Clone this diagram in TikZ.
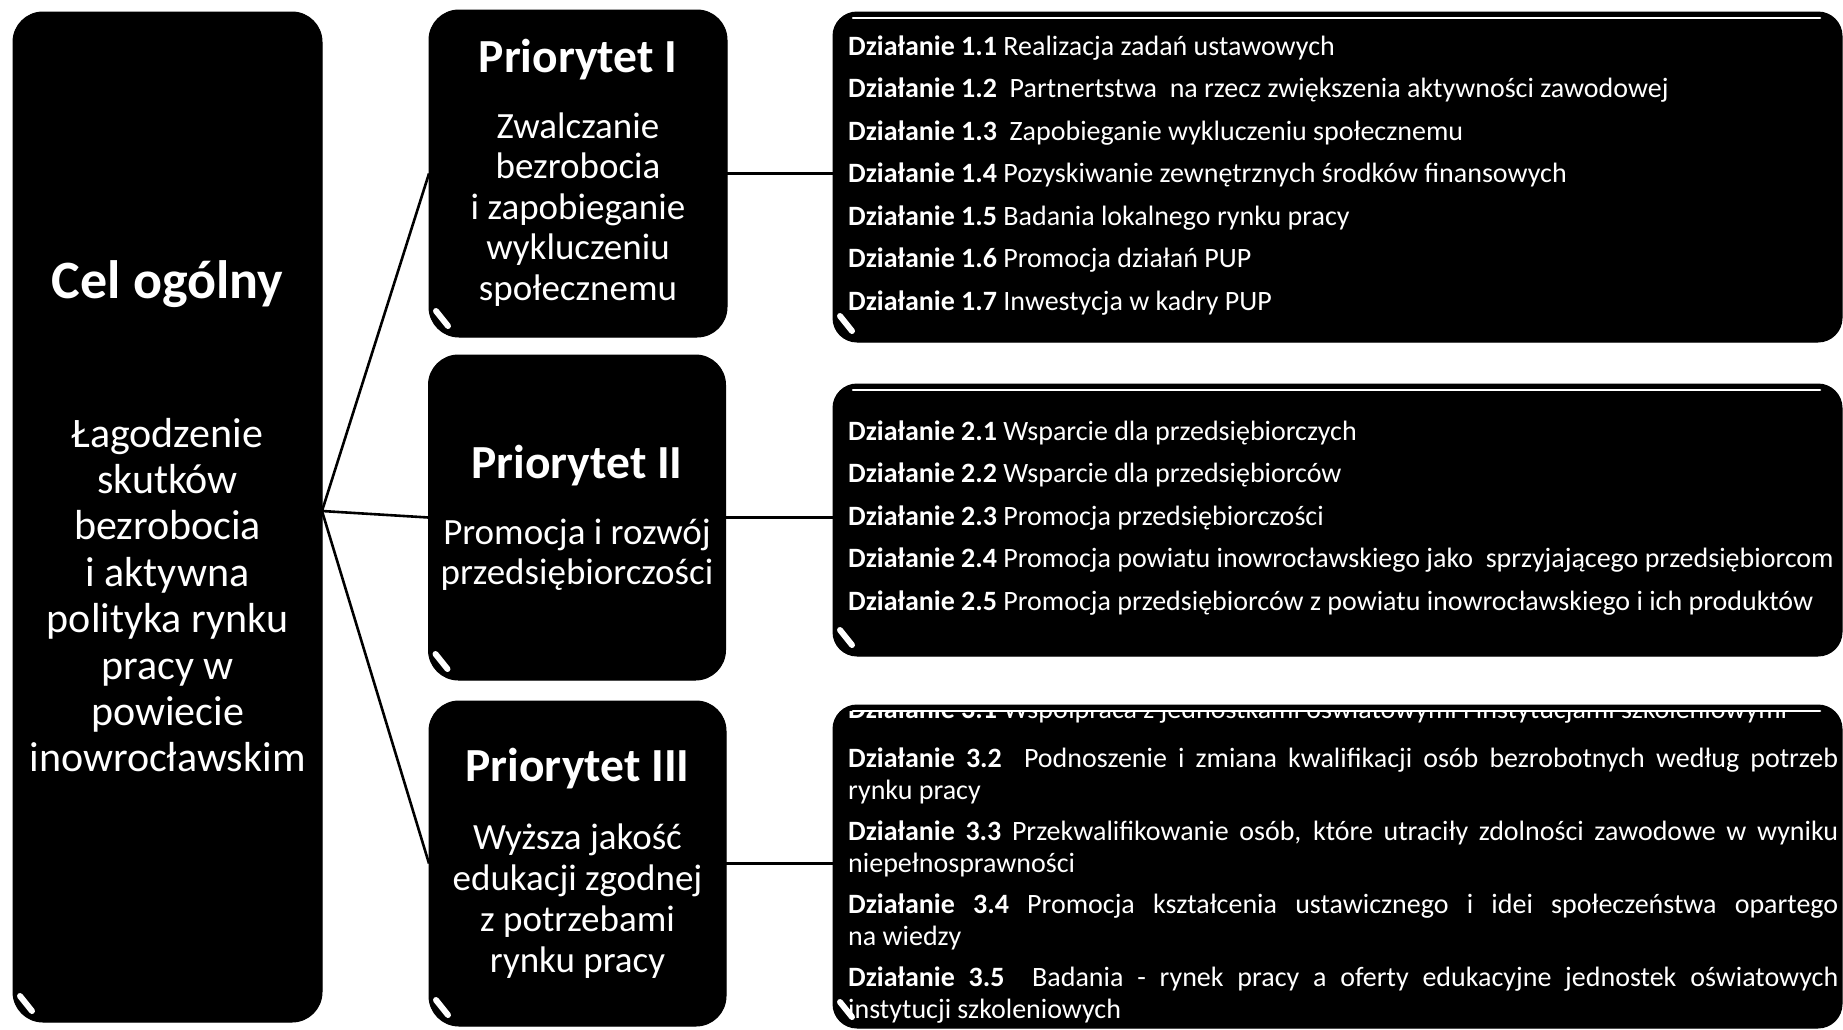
\documentclass[tikz,border=0pt]{standalone}
\usepackage{fontspec}
\setmainfont{Carlito}
\begin{document}
\begin{tikzpicture}[x=1pt,y=-1pt]
\tikzset{
  blk/.style={draw=black, fill=black, line width=1pt, inner sep=0pt, outer sep=0pt},
  bigbox/.style={blk, rounded corners=30pt},
  actbox/.style={blk, rounded corners=24pt},
  conn/.style={draw=black, line width=2.6pt},
  gloss/.style={draw=white, line width=6pt, line cap=round},
  topgloss/.style={draw=white, line width=2.5pt, line cap=round},
  wtxt/.style={text=white, inner sep=0pt, anchor=base},
  acttxt/.style={text=white, inner sep=0pt, anchor=base west, font=\fontsize{28pt}{31.5pt}\selectfont},
  celtitle/.style={wtxt, font=\fontsize{54pt}{60pt}\selectfont\bfseries},
  celbody/.style={wtxt, font=\fontsize{42pt}{46pt}\selectfont},
  ptitle/.style={wtxt, font=\fontsize{47.5pt}{55pt}\selectfont\bfseries},
  pbody/.style={wtxt, font=\fontsize{37pt}{41pt}\selectfont},
}
\fill[white] (0,0) rectangle (1843,1029);
\useasboundingbox (0,0) rectangle (1843,1029);

% boxes
\node[bigbox, minimum width=309pt, minimum height=1010pt] (cel) at (167.5,517) {};
\node[bigbox, minimum width=298pt, minimum height=327pt] (p1) at (578,173.5) {};
\node[bigbox, minimum width=297pt, minimum height=325pt] (p2) at (577,517.5) {};
\node[bigbox, minimum width=297pt, minimum height=325pt] (p3) at (577.5,863.5) {};
\node[actbox, minimum width=1009pt, minimum height=330pt] (a1) at (1337.5,177) {};
\node[actbox, minimum width=1009pt, minimum height=272pt] (a2) at (1337.5,520) {};
\node[actbox, minimum width=1009pt, minimum height=323pt] (a3) at (1337.5,866.5) {};

% connectors
\coordinate (hub) at ([yshift=6pt]cel.east);
\draw[conn] (hub) -- (p1.west);
\draw[conn] (hub) -- (p2.west);
\draw[conn] (hub) -- (p3.west);
\draw[conn] (p1.east) -- (p1.east -| a1.west);
\draw[conn] (p2.east) -- (p2.east -| a2.west);
\draw[conn] (p3.east) -- (p3.east -| a3.west);

% gloss marks
\foreach \b in {cel,p1,p2,p3,a1,a2,a3}
  \draw[gloss] ([shift={(7,-26)}]\b.south west) -- ([shift={(19,-11)}]\b.south west);

% cel text
\node[celtitle] (celt) at (167.5,298) {Cel ogólny};
\foreach \t [count=\i from 0] in {Łagodzenie, skutków, bezrobocia, i aktywna, polityka rynku, pracy w, powiecie, inowrocławskim}
  \node[celbody] (cl\i) at ({167.5},{447+46.4*\i}) {\t};

% priority texts
\node[ptitle] (p1t) at (578,72) {Priorytet I};
\foreach \t [count=\i from 0] in {Zwalczanie, bezrobocia, i zapobieganie, wykluczeniu, społecznemu}
  \node[pbody] (p1l\i) at ({578},{138+40.5*\i}) {\t};
\node[ptitle] (p2t) at (577,478) {Priorytet II};
\foreach \t [count=\i from 0] in {Promocja i rozwój, przedsiębiorczości}
  \node[pbody] (p2l\i) at ({577},{544+40.5*\i}) {\t};
\node[ptitle] (p3t) at (577.5,781) {Priorytet III};
\foreach \t [count=\i from 0] in {Wyższa jakość, edukacji zgodnej, z potrzebami, rynku pracy}
  \node[pbody] (p3l\i) at ({577.5},{849+41*\i}) {\t};

% action box 1
\node[acttxt] (a11) at (848,55) {\textbf{Działanie 1.1} Realizacja zadań ustawowych};
\node[acttxt] (a12) at (848,97.5) {\textbf{Działanie 1.2}\ \ Partnertstwa\ \ na rzecz zwiększenia aktywności zawodowej};
\node[acttxt] (a13) at (848,140) {\textbf{Działanie 1.3}\ \ Zapobieganie wykluczeniu społecznemu};
\node[acttxt] (a14) at (848,182.5) {\textbf{Działanie 1.4} Pozyskiwanie zewnętrznych środków finansowych};
\node[acttxt] (a15) at (848,225) {\textbf{Działanie 1.5} Badania lokalnego rynku pracy};
\node[acttxt] (a16) at (848,267.5) {\textbf{Działanie 1.6} Promocja działań PUP};
\node[acttxt] (a17) at (848,310) {\textbf{Działanie 1.7} Inwestycja w kadry PUP};

% action box 2
\node[acttxt] (a21) at (848,440) {\textbf{Działanie 2.1} Wsparcie dla przedsiębiorczych};
\node[acttxt] (a22) at (848,482.5) {\textbf{Działanie 2.2} Wsparcie dla przedsiębiorców};
\node[acttxt] (a23) at (848,525) {\textbf{Działanie 2.3} Promocja przedsiębiorczości};
\node[acttxt] (a24) at (848,567.5) {\textbf{Działanie 2.4} Promocja powiatu inowrocławskiego jako\ \ sprzyjającego przedsiębiorcom};
\node[acttxt] (a25) at (848,610) {\textbf{Działanie 2.5} Promocja przedsiębiorców z powiatu inowrocławskiego i ich produktów};

% action box 3
\begin{scope}
  \clip (833,711) rectangle (1842,740);
  \node[acttxt] (a31) at (848,718) {\textbf{Działanie 3.1} Współpraca z jednostkami oświatowymi i instytucjami szkoleniowymi};
\end{scope}
\node[acttxt] (a32) at (848,767) {\makebox[990pt][s]{\textbf{Działanie 3.2}\ \ Podnoszenie i zmiana kwalifikacji osób bezrobotnych według potrzeb}};
\node[acttxt] (a32b) at (848,799) {rynku pracy};
\node[acttxt] (a33) at (848,840) {\makebox[990pt][s]{\textbf{Działanie 3.3} Przekwalifikowanie osób, które utraciły zdolności zawodowe w wyniku}};
\node[acttxt] (a33b) at (848,872) {niepełnosprawności};
\node[acttxt] (a34) at (848,913) {\makebox[990pt][s]{\textbf{Działanie 3.4} Promocja kształcenia ustawicznego i idei społeczeństwa opartego}};
\node[acttxt] (a34b) at (848,945) {na wiedzy};
\node[acttxt] (a35) at (848,986) {\makebox[990pt][s]{\textbf{Działanie 3.5}\ \ Badania - rynek pracy a oferty edukacyjne jednostek oświatowych}};
\node[acttxt] (a35b) at (848,1018) {instytucji szkoleniowych};

% top gloss lines on action boxes
\foreach \b in {a1,a2,a3}
  \draw[topgloss] ([shift={(20,6)}]\b.north west) -- ([shift={(-22,6)}]\b.north east);
\end{tikzpicture}
\end{document}
